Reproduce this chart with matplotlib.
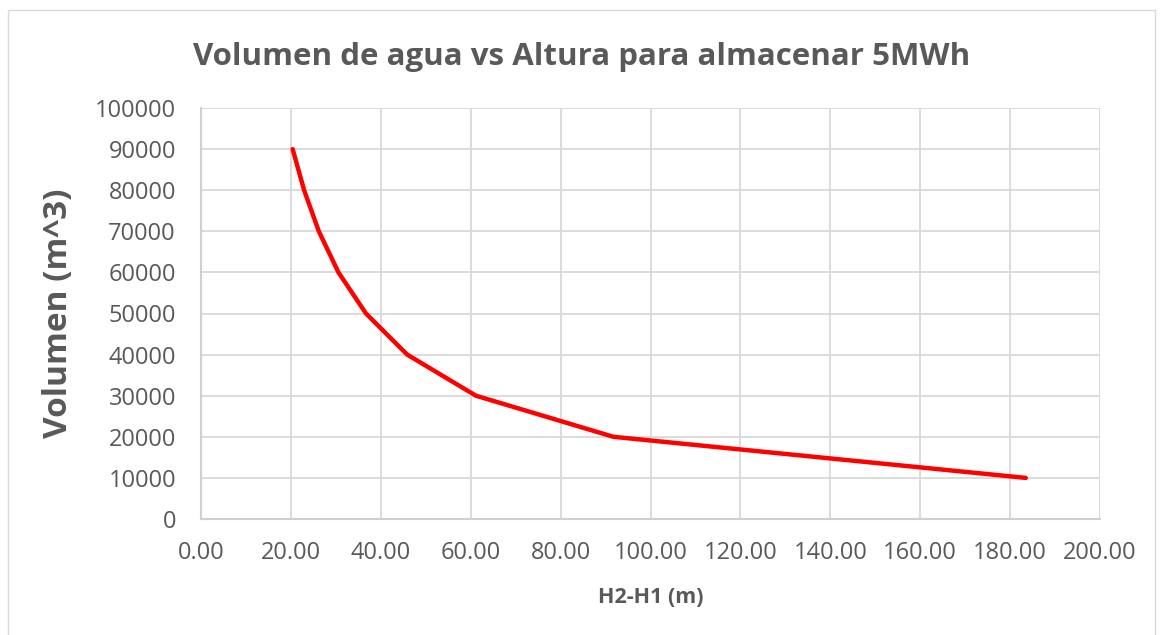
import matplotlib.pyplot as plt
from matplotlib.patches import Rectangle

# Datos: altura (m) y volumen de agua (m^3) para 5 MWh
altura = [20.39, 22.94, 26.21, 30.58, 36.70, 45.87, 61.16, 91.74, 183.49]
volumen = [90000, 80000, 70000, 60000, 50000, 40000, 30000, 20000, 10000]

x_ticks = [0, 20, 40, 60, 80, 100, 120, 140, 160, 180, 200]
y_ticks = [0, 10000, 20000, 30000, 40000, 50000, 60000, 70000, 80000, 90000, 100000]

gris = '#595959'
plt.rcParams['font.family'] = ['Open Sans', 'DejaVu Sans']

fig = plt.figure(figsize=(11.63, 6.35), dpi=100)
ax = fig.add_axes([201 / 1163, 116 / 635, 899 / 1163, 411 / 635])

ax.plot(altura, volumen, color='#ff0000', linewidth=3.2, solid_capstyle='round')

ax.set_xlim(0, 200)
ax.set_ylim(0, 100000)
ax.set_xticks(x_ticks)
ax.set_xticklabels([f'{v:.2f}' for v in x_ticks])
ax.set_yticks(y_ticks)
ax.grid(True, color='#d9d9d9', linewidth=1.3)
ax.set_axisbelow(True)
for lado in ['top', 'right']:
    ax.spines[lado].set_visible(False)
for lado in ['left', 'bottom']:
    ax.spines[lado].set_color('#d0d0d0')
    ax.spines[lado].set_linewidth(1.5)
ax.tick_params(length=0, labelsize=17, colors=gris)
ax.tick_params(axis='y', pad=18)
ax.tick_params(axis='x', pad=16)

ax.set_xlabel('H2-H1 (m)', fontsize=15.5, fontweight='bold', color=gris, labelpad=16)
ax.set_ylabel('Volumen (m^3)', fontsize=24, fontweight='bold', color=gris, labelpad=14)
fig.text(0.5, 0.91, 'Volumen de agua vs Altura para almacenar 5MWh',
         ha='center', va='center', fontsize=22.5, fontweight='bold', color=gris)

# Borde del gráfico
fig.patches.append(Rectangle((8 / 1163, -0.1), 1147 / 1163, 1.1 - 10 / 635,
                             transform=fig.transFigure, fill=False,
                             edgecolor='#d9d9d9', linewidth=1))

fig.savefig('out.png', dpi=100)
